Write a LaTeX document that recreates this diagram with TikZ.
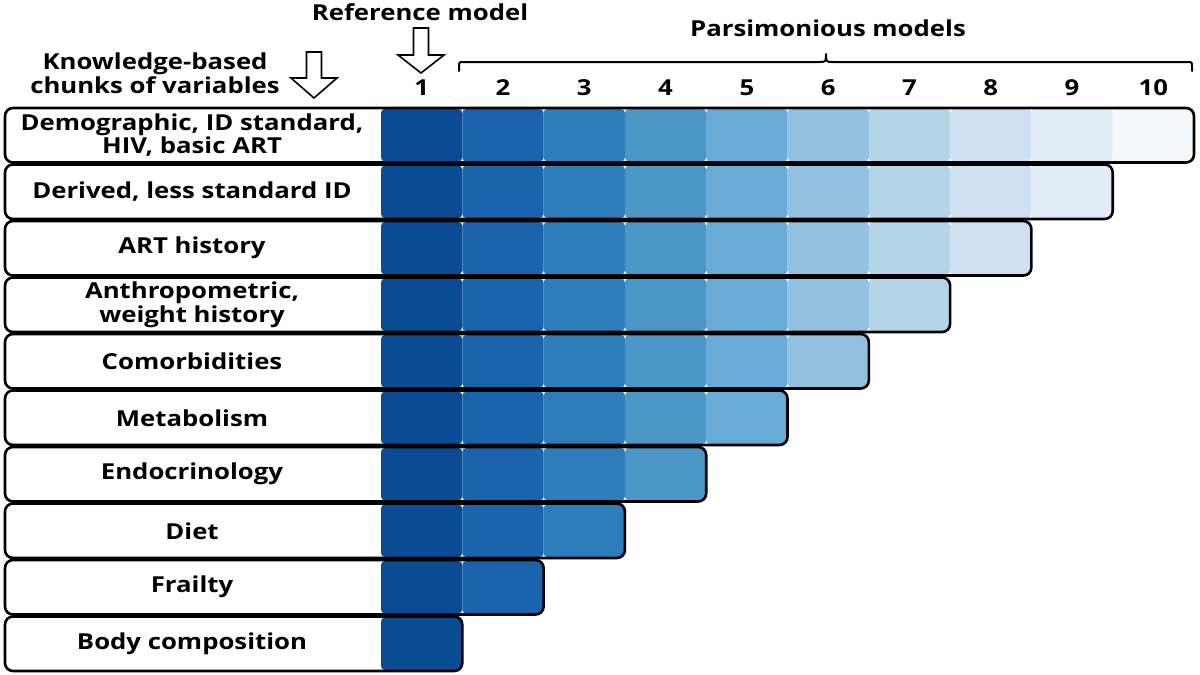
\documentclass[tikz,border=0pt]{standalone}
\usepackage{fontspec}
\setmainfont{Open Sans}[FakeStretch=1.17]
\usetikzlibrary{calc}
\definecolor{c1}{HTML}{0A4C93}
\definecolor{c2}{HTML}{1A63AD}
\definecolor{c3}{HTML}{2E7DBB}
\definecolor{c4}{HTML}{4A97C8}
\definecolor{c5}{HTML}{68ACD5}
\definecolor{c6}{HTML}{93C1DF}
\definecolor{c7}{HTML}{B4D4E8}
\definecolor{c8}{HTML}{CFE1F0}
\definecolor{c9}{HTML}{E2EDF7}
\definecolor{c10}{HTML}{F3F8FD}
\tikzset{
  txt/.style={font=\fontsize{22}{23.5}\selectfont\bfseries, align=center, inner sep=0pt},
  rowline/.style={draw=black, line width=2.6pt, rounded corners=8pt},
  cellbox/.style={rounded corners=4pt},
  hollowarrow/.style={draw=black, line width=1.6pt, fill=white, line join=miter},
}
\begin{document}
\begin{tikzpicture}[x=1pt,y=-1pt]
\useasboundingbox (0,0) rectangle (1200,675);
\fill[white] (0,0) rectangle (1200,675);
% rows
\foreach \i/\lab in {1/{Demographic, ID standard,\\HIV, basic ART},2/{Derived, less standard ID},3/{ART history},4/{Anthropometric,\\weight history},5/{Comorbidities},6/{Metabolism},7/{Endocrinology},8/{Diet},9/{Frailty},10/{Body composition}}{
  \pgfmathsetmacro{\top}{108+(\i-1)*56.5}
  \pgfmathsetmacro{\bot}{\top+54.5}
  \pgfmathtruncatemacro{\ncol}{11-\i}
  \pgfmathsetmacro{\rgt}{381+\ncol*81.3}
  \fill[white, rounded corners=8pt] (5,\top) rectangle (\rgt,\bot);
  \foreach \j in {1,...,\ncol}{
    \pgfmathsetmacro{\xa}{381+(\j-1)*81.3}
    \pgfmathsetmacro{\xb}{381+\j*81.3}
    \fill[c\j, cellbox] (\xa,\top+1) rectangle (\xb,\bot-1);
  }
  \draw[rowline] (5,\top) rectangle (\rgt,\bot);
  \node[txt] (lab\i) at (192,{(\top+\bot)/2}) {\lab};
}
% column numbers
\foreach \j in {1,...,10}{
  \node[txt] (num\j) at ({381+(\j-0.5)*81.3},88) {\j};
}
% headings
\node[txt] (refmodel) at (420,12) {Reference model};
\node[txt] (parsi) at (828,28) {Parsimonious models};
\node[txt] (know) at (155,73) {Knowledge-based\\chunks of variables};
% hollow arrows
\draw[hollowarrow] (413.5,28) -- (428.5,28) -- (428.5,55) -- (444,55) -- (421,73) -- (398,55) -- (413.5,55) -- cycle;
\draw[hollowarrow] (306.5,52) -- (321.5,52) -- (321.5,78) -- (337,78) -- (314,98) -- (291,78) -- (306.5,78) -- cycle;
% brace
\coordinate (bl) at (459,71);
\coordinate (br) at (1192,71);
\coordinate (bm) at (826,54);
\draw[line width=2pt, line cap=round, line join=round]
  (bl) -- (459,67) .. controls (459,62) .. (464,62) -- (819,62) .. controls (826,62) .. (bm)
  .. controls (826,62) .. (833,62) -- (1187,62) .. controls (1192,62) .. (1192,67) -- (br);
\end{tikzpicture}
\end{document}
